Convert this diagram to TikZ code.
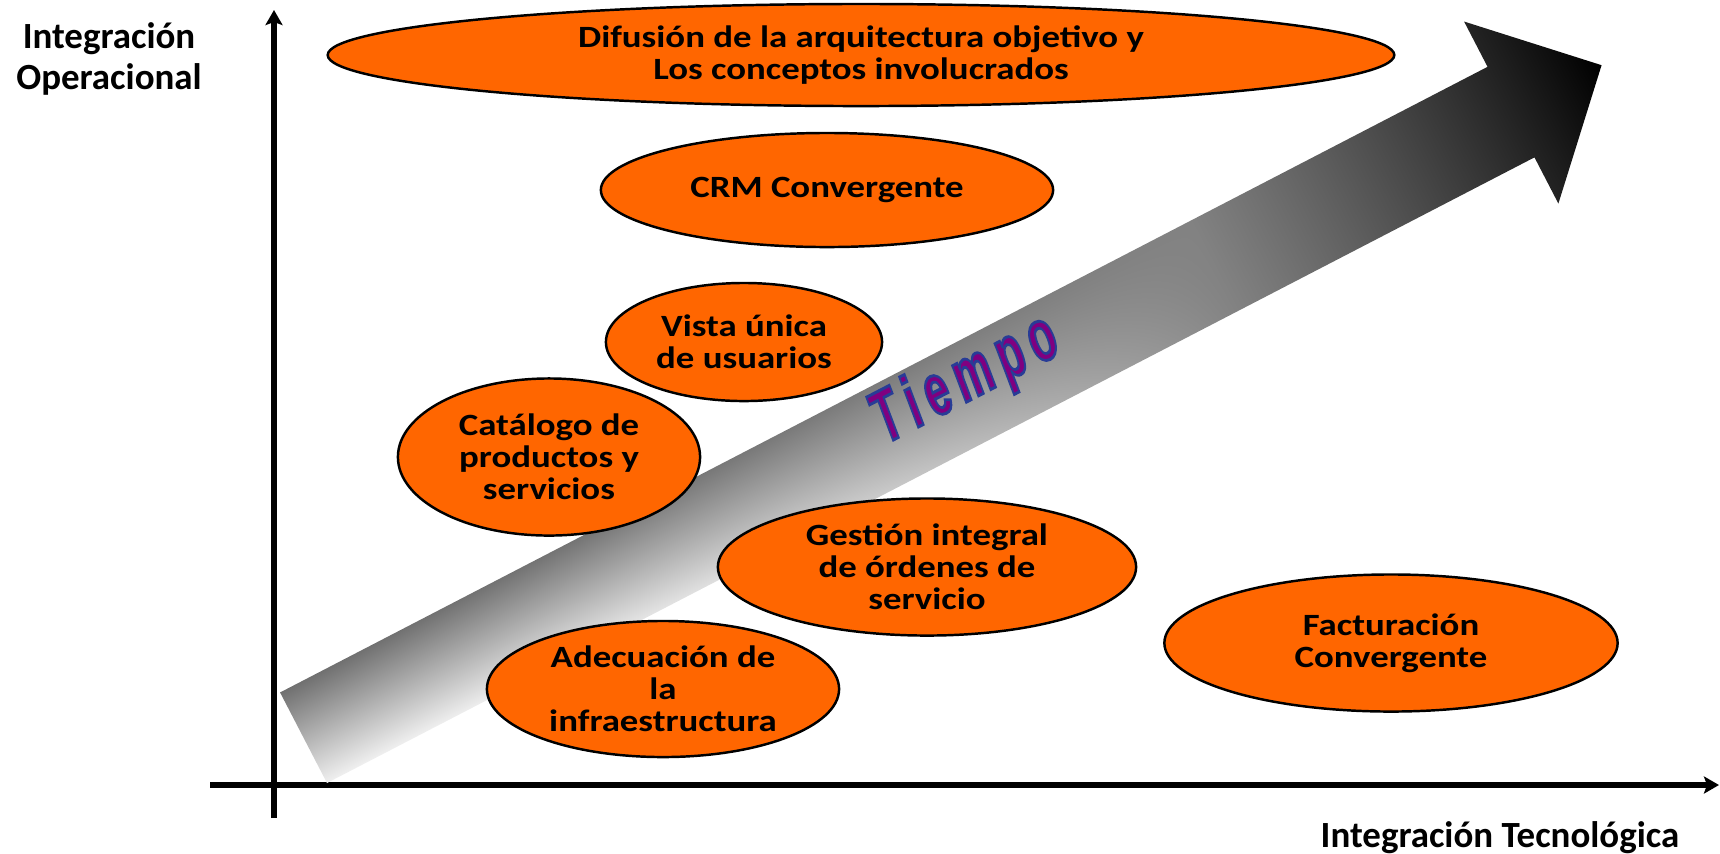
\documentclass[tikz,border=0pt]{standalone}
\usepackage{fontspec}
\setmainfont{Carlito}
\newfontfamily\ellfont{Carlito}[FakeStretch=1.19]
\newfontfamily\tfontout{Liberation Sans}[FakeBold=4]
\usetikzlibrary{shapes.geometric,arrows.meta}
\definecolor{orangeF}{RGB}{255,102,0}
\definecolor{tpurple}{RGB}{128,0,128}
\pgfdeclarefunctionalshading{arrowshade}{\pgfpoint{0bp}{0bp}}{\pgfpoint{100bp}{100bp}}{}{
  0.040196 mul 1.5147 sub
  exch 0.02 mul 0.5 sub
  dup 0 lt {pop 0} if
  dup 2.2 exp 1 exch sub 0.94 mul
  exch 0.7 div dup mul 1 exch sub 0.5 mul
  dup 0 lt {pop 0} if
  3 -1 roll mul sub
  dup 0 lt {pop 0} if
  dup 1 gt {pop 1} if
  dup dup
}
% purple fill, blue stroke (outline) for the emboldened Tiempo text
\newcommand\tiempotext{\special{pdf:code 0.157 0.235 0.588 RG}T\kern.085cm i\kern.085cm e\kern.085cm m\kern.085cm p\kern.085cm o}
\begin{document}
\begin{tikzpicture}[x=0.01cm,y=-0.01cm,
  blob/.style={ellipse, draw=black, line width=0.7pt, fill=orangeF, inner sep=0pt,
    align=center, font=\ellfont\bfseries\fontsize{8.8pt}{9.1pt}\selectfont},
  axisline/.style={line width=1.45pt, draw=black},
  lbl/.style={font=\bfseries\fontsize{10.5pt}{11.9pt}\selectfont, align=center, inner sep=0pt},
  tiempo/.style={rotate=27.4, yscale=1.65, inner sep=0pt, text=tpurple,
    font=\tfontout\bfseries\itshape\fontsize{12.6pt}{14pt}\selectfont}]
\useasboundingbox (0,0) rectangle (1720,853);

% axes
\coordinate (ybot) at (274,818);
\coordinate (ytop) at (274,10);
\coordinate (xleft) at (210,785);
\coordinate (xright) at (1719,785);
\draw[axisline, -{Stealth[length=0.15cm,width=0.17cm,inset=0.03cm]}] (ybot) -- (ytop);
\draw[axisline, -{Stealth[length=0.15cm,width=0.17cm,inset=0.03cm]}] (xleft) -- (xright);

% big time arrow
\begin{scope}
  \clip[shift={(327,783)}, rotate=27.39]
    (0,0) -- (1360,0) -- (1360,52) -- (1462,-51) -- (1360,-153) -- (1360,-102) -- (0,-102) -- cycle;
  \begin{scope}[transform canvas={shift={(327,783)}, rotate=27.39}]
    \shade[shading=arrowshade] (0,52) rectangle (1462,-153);
  \end{scope}
\end{scope}

% ellipses
\node[blob, minimum width=10.66cm, minimum height=1.02cm] (dif) at (861,55)
  {Difusión de la arquitectura objetivo y\\Los conceptos involucrados};
\node[blob, minimum width=4.52cm, minimum height=1.14cm] (crm) at (827,190) {CRM Convergente};
\node[blob, minimum width=2.76cm, minimum height=1.18cm] (vista) at (744,342) {Vista única\\de usuarios};
\node[blob, minimum width=3.02cm, minimum height=1.57cm] (cat) at (549,457) {Catálogo de\\productos y\\servicios};
\node[blob, minimum width=4.18cm, minimum height=1.37cm] (gest) at (927,567) {Gestión integral\\de órdenes de\\servicio};
\node[blob, minimum width=3.52cm, minimum height=1.36cm] (adec) at (663,689) {Adecuación de\\la\\infraestructura};
\node[blob, minimum width=4.53cm, minimum height=1.37cm] (fact) at (1391,643) {Facturación\\Convergente};

% Tiempo label
\node[tiempo] (tiempo) at (966,381) {\tiempotext};

% axis labels
\node[lbl] (ylabel) at (109,59) {Integración\\Operacional};
\node[lbl, anchor=base] (xlabel) at (1500,847) {Integración Tecnológica};
\end{tikzpicture}
\end{document}
